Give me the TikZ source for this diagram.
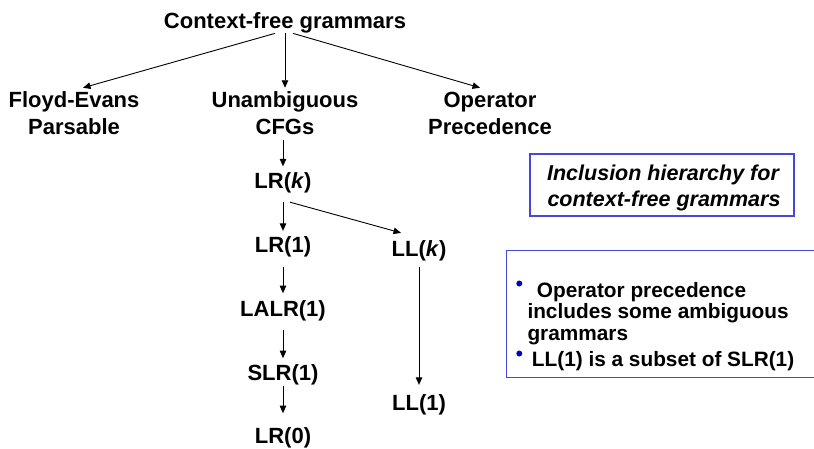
\documentclass[tikz,border=0pt]{standalone}
\usepackage{fontspec}
\setmainfont{Liberation Sans}
\usetikzlibrary{arrows.meta}
\definecolor{boxblue}{RGB}{70,70,225}
\definecolor{dotblue}{RGB}{0,0,205}
\begin{document}
\begin{tikzpicture}[x=1pt,y=-1pt,
  lbl/.style={anchor=base, inner sep=0pt, font=\fontsize{22}{26}\selectfont\bfseries},
  note/.style={anchor=base, inner sep=0pt, font=\fontsize{21.5}{26}\selectfont\bfseries\itshape},
  btxt/.style={anchor=base west, inner sep=0pt, font=\fontsize{20.8}{24}\selectfont\bfseries},
  arr/.style={-{Triangle[length=7.5pt,width=6.5pt]}, line width=0.9pt},
  frame/.style={draw=boxblue, line width=1.3pt, inner sep=0pt},
  dot/.style={circle, fill=dotblue, inner sep=0pt, minimum size=6pt}]
\useasboundingbox (0,0) rectangle (814,448);
\fill[white] (0,0) rectangle (814,448);

% hierarchy labels
\node[lbl] (cfg) at (285,28.5) {Context-free grammars};
\node[lbl] (floyd) at (74,107.5) {Floyd-Evans};
\node[lbl] (floyd2) at (74,134) {Parsable};
\node[lbl] (unamb) at (285,107.5) {Unambiguous};
\node[lbl] (unamb2) at (285,134) {CFGs};
\node[lbl] (oper) at (490,107.5) {Operator};
\node[lbl] (oper2) at (490,134) {Precedence};
\node[lbl] (lrk) at (283,188.5) {LR(\textit{k})};
\node[lbl] (lr1) at (283,252) {LR(1)};
\node[lbl] (llk) at (419,256.5) {LL(\textit{k})};
\node[lbl] (lalr) at (283,316.7) {LALR(1)};
\node[lbl] (slr) at (283,380.7) {SLR(1)};
\node[lbl] (ll1) at (419,410.7) {LL(1)};
\node[lbl] (lr0) at (283,443) {LR(0)};

% connectors
\draw[arr] ([xshift=-10pt]cfg.south) -- ([xshift=9pt,yshift=3.6pt]floyd.north);
\draw[arr] (cfg.south) -- ([yshift=3.6pt]unamb.north);
\draw[arr] ([xshift=8pt]cfg.south) -- ([xshift=-10pt,yshift=4.2pt]oper.north);
\draw[arr] ([xshift=-2pt,yshift=-5.7pt]unamb2.south) -- ([yshift=6pt]lrk.north);
\draw[arr] ([yshift=-8.9pt]lrk.south) -- ([yshift=5pt]lr1.north);
\draw[arr] ([xshift=7pt,yshift=-8.9pt]lrk.south) -- ([xshift=-18pt,yshift=7.5pt]llk.north);
\draw[arr] ([yshift=-10.4pt]lr1.south) -- ([yshift=7.4pt]lalr.north);
\draw[arr] ([yshift=-8.7pt]lalr.south) -- ([yshift=6.4pt]slr.north);
\draw[arr] ([yshift=-0.7pt]slr.south) -- ([yshift=13.7pt]lr0.north);
\draw[arr] ([yshift=-5.9pt]llk.south) -- ([yshift=9.7pt]ll1.north);

% caption box
\node[frame, minimum width=264pt, minimum height=62pt] (incbox) at (662,185) {};
\node[note] (inc1) at (663,180.7) {Inclusion hierarchy for};
\node[note] (inc2) at (664,206.7) {context-free grammars};

% notes box
\node[frame, anchor=north west, minimum width=312pt, minimum height=127pt] (notebox) at (506,250) {};
\node[dot] (d1) at (519.3,283.5) {};
\node[dot] (d2) at (519.3,353.5) {};
\node[btxt] (b1a) at (536.7,297.3) {Operator precedence};
\node[btxt] (b1b) at (527.3,318.7) {includes some ambiguous};
\node[btxt] (b1c) at (527.3,340) {grammars};
\node[btxt] (b2) at (531.7,366.7) {LL(1) is a subset of SLR(1)};
\end{tikzpicture}
\end{document}
